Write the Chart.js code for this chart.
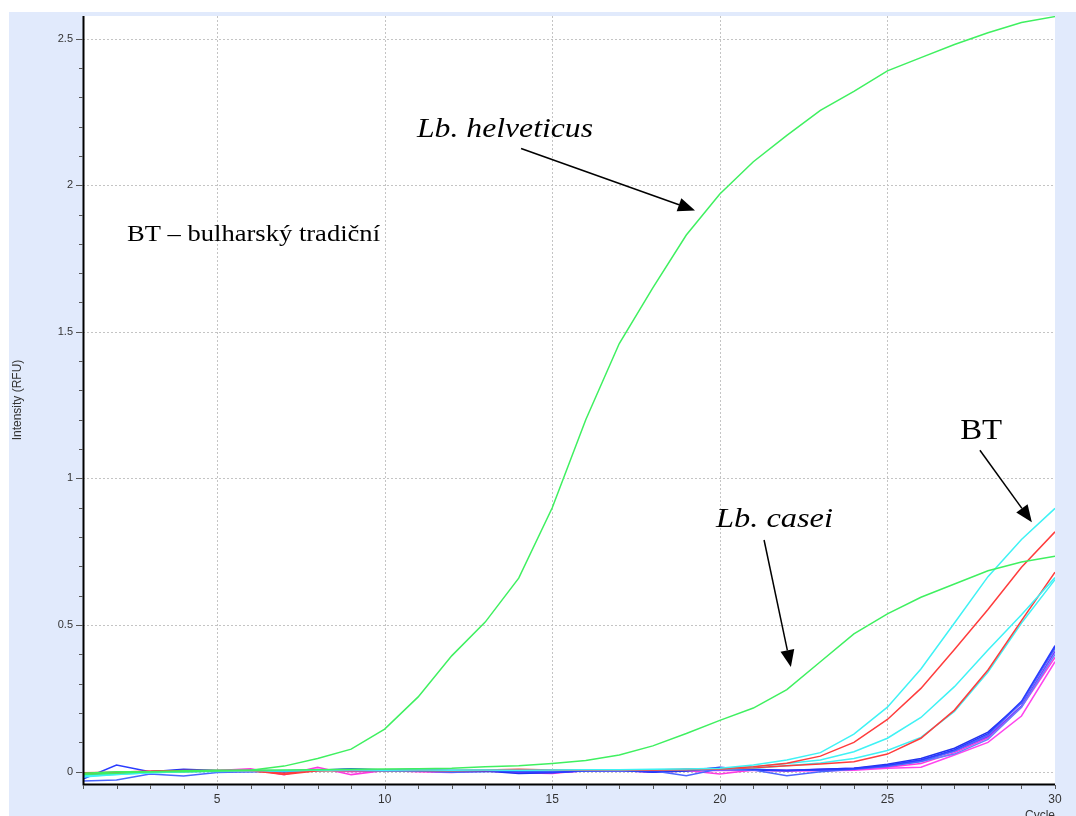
<!DOCTYPE html>
<html>
<head>
<meta charset="utf-8">
<script src="https://cdn.jsdelivr.net/npm/chart.js@4.4.1/dist/chart.umd.min.js"></script>
<style>
  html, body { margin: 0; padding: 0; background: #fff; overflow: hidden; }
  canvas { display: block; }
</style>
</head>
<body>
<canvas id="c" width="1076" height="816"></canvas>
<script>
// Amplification cycles
const cycles = [1,2,3,4,5,6,7,8,9,10,11,12,13,14,15,16,17,18,19,20,21,22,23,24,25,26,27,28,29,30];

// Axis tick labels
const xTickValues = [5, 10, 15, 20, 25, 30];
const xTickLabels = ['5', '10', '15', '20', '25', '30'];
const yTickValues = [0, 0.5, 1, 1.5, 2, 2.5];
const yTickLabels = ['0', '0.5', '1', '1.5', '2', '2.5'];

// Fluorescence (RFU) per cycle
const helveticus = [-0.005,0.000,0.000,0.000,0.002,0.005,0.019,0.045,0.077,0.145,0.255,0.395,0.510,0.660,0.900,1.200,1.460,1.650,1.830,1.970,2.080,2.170,2.255,2.320,2.390,2.435,2.480,2.520,2.555,2.575];
const casei      = [-0.010,-0.005,0.000,0.003,0.005,0.005,0.006,0.007,0.008,0.009,0.010,0.012,0.017,0.020,0.028,0.038,0.057,0.088,0.130,0.175,0.217,0.280,0.375,0.470,0.538,0.595,0.640,0.685,0.715,0.735];
const btCyan1    = [-0.018,-0.010,-0.004,0.000,0.002,0.003,0.004,0.005,0.006,0.005,0.006,0.005,0.006,0.005,0.006,0.007,0.007,0.008,0.009,0.012,0.023,0.040,0.065,0.128,0.220,0.350,0.507,0.665,0.792,0.898];
const btRed1     = [-0.006,-0.004,0.000,0.004,0.003,0.004,-0.010,0.003,0.005,0.004,0.005,0.004,0.006,0.008,0.006,0.005,0.006,0.006,0.008,0.010,0.017,0.029,0.053,0.100,0.178,0.284,0.417,0.553,0.697,0.818];
const btCyan2    = [-0.014,-0.008,-0.002,0.001,0.002,0.003,0.003,0.004,0.005,0.004,0.005,0.004,0.005,0.005,0.006,0.006,0.006,0.007,0.008,0.011,0.017,0.028,0.040,0.068,0.114,0.185,0.290,0.415,0.535,0.662];
const btRed2     = [-0.004,-0.002,0.002,0.003,0.004,0.002,-0.005,0.004,0.004,0.005,0.004,0.003,0.004,0.006,0.006,0.005,0.005,0.006,0.007,0.009,0.013,0.020,0.026,0.034,0.060,0.114,0.210,0.347,0.515,0.680];
const btCyan3    = [-0.016,-0.010,-0.004,0.000,0.001,0.002,0.003,0.003,0.004,0.004,0.004,0.004,0.005,0.004,0.005,0.005,0.006,0.006,0.007,0.009,0.012,0.020,0.030,0.045,0.072,0.117,0.205,0.340,0.507,0.655];
const blue1      = [-0.025,0.023,0.000,0.005,0.003,0.002,0.000,0.004,0.008,0.005,0.004,0.002,0.003,0.000,-0.003,0.004,0.006,0.000,0.008,0.012,0.008,0.004,0.006,0.010,0.022,0.040,0.075,0.130,0.240,0.430];
const blue2      = [-0.032,-0.028,-0.008,-0.015,-0.003,0.000,0.002,0.005,0.005,0.003,0.002,-0.002,0.000,0.003,0.000,0.002,0.004,0.003,-0.014,0.010,0.006,-0.014,0.000,0.008,0.018,0.035,0.070,0.125,0.235,0.420];
const blue3      = [-0.012,-0.005,0.000,0.008,0.004,0.002,0.000,0.005,0.010,0.006,0.008,0.004,0.002,-0.006,-0.004,0.003,0.004,-0.002,0.002,0.015,0.006,0.003,0.008,0.012,0.025,0.045,0.080,0.135,0.235,0.425];
const slate      = [-0.010,-0.008,0.000,0.004,0.002,0.000,0.003,0.004,0.006,0.004,0.002,0.000,0.004,0.002,0.000,0.003,0.005,0.001,0.003,0.008,0.005,0.004,0.006,0.010,0.020,0.035,0.060,0.110,0.220,0.400];
const purple     = [-0.008,-0.004,0.000,0.002,0.003,0.004,0.002,0.006,0.004,0.002,0.004,0.002,0.003,0.000,-0.002,0.002,0.003,0.002,0.004,0.006,0.006,0.005,0.008,0.012,0.020,0.040,0.070,0.120,0.225,0.410];
const magenta1   = [-0.010,-0.006,0.000,0.002,0.004,0.010,-0.010,0.015,-0.010,0.004,0.000,-0.003,0.002,-0.004,-0.006,0.005,0.006,0.000,0.004,-0.008,0.006,0.004,0.005,0.008,0.015,0.028,0.065,0.115,0.220,0.390];
const magenta2   = [-0.012,-0.008,-0.002,0.000,0.002,0.006,0.002,0.008,0.000,0.003,0.002,0.000,0.003,-0.002,-0.003,0.002,0.004,-0.002,0.002,0.004,0.004,0.002,0.003,0.005,0.012,0.015,0.057,0.100,0.190,0.375];

const seriesList = [
  { values: helveticus, color: '#3ff060' },
  { values: casei,      color: '#3ff060' },
  { values: btCyan1,    color: '#3ff2f5' },
  { values: btRed1,     color: '#ff3c3c' },
  { values: btCyan2,    color: '#3ff2f5' },
  { values: btRed2,     color: '#ff3c3c' },
  { values: btCyan3,    color: '#3ff2f5' },
  { values: blue1,      color: '#2a3cff' },
  { values: blue2,      color: '#4a66ff' },
  { values: blue3,      color: '#2233ee' },
  { values: slate,      color: '#6680ff' },
  { values: purple,     color: '#7a3cff' },
  { values: magenta1,   color: '#ff38e0' },
  { values: magenta2,   color: '#ff44ee' }
];

// Callout texts and arrows, positioned in (cycle, RFU) units
const notes = [
  { text: 'Lb. helveticus', x: 10.965, y: 2.163, italic: true,  size: 28, width: 176 },
  { text: 'BT \u2013 bulharsk\u00fd tradi\u010dn\u00ed', x: 2.313, y: 1.81, italic: false, size: 23, width: 253 },
  { text: 'BT',             x: 27.17,  y: 1.134, italic: false, size: 29, width: 42 },
  { text: 'Lb. casei',      x: 19.885, y: 0.834, italic: true,  size: 28, width: 117 }
];
const arrows = [
  { from: [14.07, 2.125], to: [19.26, 1.914] },
  { from: [27.76, 1.096], to: [29.31, 0.851] },
  { from: [21.32, 0.790], to: [22.12, 0.357] }
];

const datasets = seriesList.map(s => ({
  data: cycles.map((c, i) => ({ x: c, y: s.values[i] })),
  borderColor: s.color,
  backgroundColor: s.color,
  borderWidth: 1.5,
  pointRadius: 0,
  tension: 0,
  fill: false
}));

const decor = {
  id: 'decor',
  beforeDraw(chart) {
    const { ctx, width, height, chartArea: a } = chart;
    const xs = chart.scales.x, ys = chart.scales.y;
    ctx.save();
    ctx.fillStyle = '#fff';
    ctx.fillRect(0, 0, width, height);
    ctx.fillStyle = '#e1eafc';
    ctx.fillRect(9, 12, width - 9, height - 12);
    ctx.fillStyle = '#fff';
    ctx.fillRect(a.left, a.top, a.right - a.left, a.bottom - a.top);
    // dotted grid at labelled ticks
    ctx.strokeStyle = '#c4c4c4';
    ctx.lineWidth = 1;
    ctx.setLineDash([2, 2]);
    ctx.beginPath();
    xTickValues.forEach(v => {
      if (v >= xs.max) return;
      const px = Math.round(xs.getPixelForValue(v)) + 0.5;
      ctx.moveTo(px, a.top); ctx.lineTo(px, a.bottom);
    });
    yTickValues.forEach(v => {
      const py = Math.round(ys.getPixelForValue(v)) + 0.5;
      ctx.moveTo(a.left, py); ctx.lineTo(a.right, py);
    });
    ctx.stroke();
    ctx.restore();
  },
  afterDraw(chart) {
    const { ctx, chartArea: a } = chart;
    const xs = chart.scales.x, ys = chart.scales.y;
    ctx.save();
    // axis lines
    ctx.strokeStyle = '#000';
    ctx.lineWidth = 2;
    ctx.beginPath();
    ctx.moveTo(a.left + 0.5, a.top);
    ctx.lineTo(a.left + 0.5, a.bottom + 1.5);
    ctx.moveTo(a.left, a.bottom + 0.5);
    ctx.lineTo(a.right, a.bottom + 0.5);
    ctx.stroke();
    // tick marks
    ctx.strokeStyle = '#555';
    ctx.lineWidth = 1;
    ctx.beginPath();
    for (let k = 0; k <= 25; k++) {
      const py = Math.round(ys.getPixelForValue(k / 10)) + 0.5;
      const len = (k % 5 === 0) ? 7 : 4;
      ctx.moveTo(a.left - len, py); ctx.lineTo(a.left, py);
    }
    cycles.forEach(c => {
      const px = Math.round(xs.getPixelForValue(c)) + 0.5;
      ctx.moveTo(px, a.bottom + 1); ctx.lineTo(px, a.bottom + 5);
    });
    ctx.stroke();
    // axis titles
    ctx.fillStyle = '#333';
    ctx.font = '12px "Liberation Sans", Arial, sans-serif';
    ctx.save();
    ctx.translate(18, (a.top + a.bottom) / 2);
    ctx.rotate(-Math.PI / 2);
    ctx.textAlign = 'center';
    ctx.textBaseline = 'middle';
    ctx.fillText('Intensity (RFU)', 0, 0);
    ctx.restore();
    ctx.textAlign = 'right';
    ctx.textBaseline = 'top';
    ctx.fillText('Cycle', a.right, 810);
    // callouts
    ctx.fillStyle = '#000';
    ctx.textAlign = 'left';
    ctx.textBaseline = 'alphabetic';
    notes.forEach(n => {
      ctx.font = (n.italic ? 'italic ' : '') + n.size + 'px "Liberation Serif", "Times New Roman", serif';
      const w = ctx.measureText(n.text).width;
      ctx.save();
      ctx.translate(xs.getPixelForValue(n.x), ys.getPixelForValue(n.y));
      ctx.scale(n.width / w, 1);
      ctx.fillText(n.text, 0, 0);
      ctx.restore();
    });
    ctx.strokeStyle = '#000';
    ctx.lineWidth = 1.5;
    arrows.forEach(ar => {
      const x1 = xs.getPixelForValue(ar.from[0]), y1 = ys.getPixelForValue(ar.from[1]);
      const x2 = xs.getPixelForValue(ar.to[0]),   y2 = ys.getPixelForValue(ar.to[1]);
      const ang = Math.atan2(y2 - y1, x2 - x1);
      const head = 17, half = 7;
      const bx = x2 - head * Math.cos(ang), by = y2 - head * Math.sin(ang);
      ctx.beginPath();
      ctx.moveTo(x1, y1); ctx.lineTo(bx, by);
      ctx.stroke();
      ctx.beginPath();
      ctx.moveTo(x2, y2);
      ctx.lineTo(bx + half * Math.sin(ang), by - half * Math.cos(ang));
      ctx.lineTo(bx - half * Math.sin(ang), by + half * Math.cos(ang));
      ctx.closePath();
      ctx.fill();
    });
    ctx.restore();
  }
};

new Chart(document.getElementById('c').getContext('2d'), {
  type: 'line',
  data: { datasets },
  options: {
    responsive: false,
    animation: false,
    devicePixelRatio: 1,
    layout: { padding: { left: 0, top: 16, right: 21, bottom: 0 } },
    plugins: { legend: { display: false }, tooltip: { enabled: false } },
    scales: {
      x: {
        type: 'linear', min: 1, max: 30,
        afterBuildTicks(s) { s.ticks = xTickValues.map(v => ({ value: v })); },
        afterFit(s) { s.height = 32; },
        grid: { color: 'rgba(0,0,0,0)', tickColor: 'rgba(0,0,0,0)', tickLength: 5 },
        border: { display: false },
        ticks: {
          autoSkip: false, maxRotation: 0, padding: 3, color: '#333',
          font: { family: '"Liberation Sans", Arial, sans-serif', size: 12 },
          callback: (v, i) => xTickLabels[i]
        }
      },
      y: {
        type: 'linear', min: -0.042, max: 2.577,
        afterBuildTicks(s) { s.ticks = yTickValues.map(v => ({ value: v })); },
        afterFit(s) { s.width = 83; },
        grid: { color: 'rgba(0,0,0,0)', tickColor: 'rgba(0,0,0,0)', tickLength: 7 },
        border: { display: false },
        ticks: {
          padding: 3, color: '#333',
          font: { family: '"Liberation Sans", Arial, sans-serif', size: 11 },
          callback: (v, i) => yTickLabels[i]
        }
      }
    }
  },
  plugins: [decor]
});
</script>
</body>
</html>
